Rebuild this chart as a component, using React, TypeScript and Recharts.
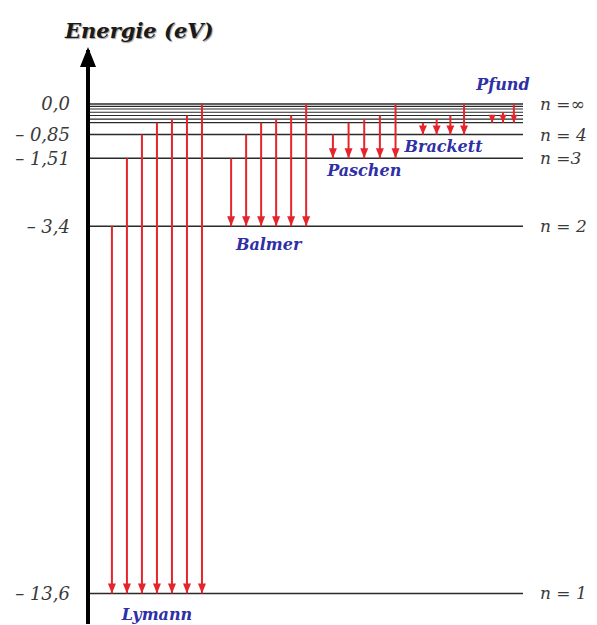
import React from 'react';
import { ComposedChart, Line, XAxis, YAxis, ReferenceLine, ReferenceDot } from 'recharts';

// Energy levels of hydrogen as drawn (eV)
const levelNames = ['1', '2', '3', '4', '5', '6', '7', '8', '9', '10', '∞'];
const levelEnergies = [-13.6, -3.4, -1.51, -0.85, -0.52, -0.42, -0.32, -0.23, -0.14, -0.065, 0];
const levelLabels = ['n = 1', 'n = 2', 'n =3', 'n = 4', '', '', '', '', '', '', 'n =∞'];

// Y axis ticks
const tickValues = [0, -0.85, -1.51, -3.4, -13.6];
const tickLabels = ['0,0', '– 0,85', '– 1,51', '– 3,4', '– 13,6'];

// Series: name, lower level, upper levels of the drawn transitions
const seriesNames = ['Lymann', 'Balmer', 'Paschen', 'Brackett', 'Pfund'];
const seriesLower = ['1', '2', '3', '4', '5'];
const lymanUpper = ['2', '3', '4', '5', '6', '7', '∞'];
const balmerUpper = ['3', '4', '5', '6', '7', '∞'];
const paschenUpper = ['4', '5', '6', '7', '∞'];
const brackettUpper = ['5', '6', '7', '∞'];
const pfundUpper = ['7', '8', '∞'];
const seriesUpper = [lymanUpper, balmerUpper, paschenUpper, brackettUpper, pfundUpper];

// Layout (horizontal placement of arrow groups, label offsets)
const groupStart = [5.5, 32.9, 56.3, 77, 92.9];
const groupStep = [3.45, 3.45, 3.6, 3.15, 2.5];
const nameDy = [21, 18, 12, 12, -19];
const headSize = [[8, 10], [8, 10], [8, 10], [8, 9], [7, 8]];

const RED = '#e5252b';
const BLUE = '#2f2fa6';
const SERIF = '"DejaVu Serif", "Liberation Serif", serif';

const energyOf = (n: string) => levelEnergies[levelNames.indexOf(n)];

const makeHead = (w: number, h: number) => (p: any) => {
  const { cx, cy, index } = p;
  if (index !== 1 || cx == null || cy == null) return <g key={`d-${index}`} />;
  return (
    <polygon
      key={`d-${index}`}
      points={`${cx - w / 2},${cy - h} ${cx + w / 2},${cy - h} ${cx},${cy}`}
      fill={RED}
    />
  );
};

const nameLabel = (text: string, dy: number) => (props: any) => {
  const vb = props.viewBox || {};
  const cx = (vb.x || 0) + (vb.width || 0) / 2;
  const cy = (vb.y || 0) + (vb.height || 0) / 2;
  return (
    <text
      x={cx}
      y={cy + dy}
      textAnchor="middle"
      dominantBaseline="central"
      fill={BLUE}
      fontSize={16}
      fontWeight="bold"
      fontStyle="italic"
      fontFamily={SERIF}
    >
      {text}
    </text>
  );
};

const titleLabel = () => (
  <text
    x={65}
    y={38}
    fill="#1a1a1a"
    fontSize={21}
    fontWeight="bold"
    fontStyle="italic"
    fontFamily={SERIF}
    style={{ textShadow: '1px 1px 1px #999' }}
  >
    Energie (eV)
  </text>
);

const axisHead = (p: any) => {
  const { cx, cy } = p;
  return <polygon points={`${cx},${cy - 3} ${cx - 8},${cy + 17} ${cx + 8},${cy + 17}`} fill="#000" />;
};

export default function App() {
  const arrows: React.ReactNode[] = [];
  const names: React.ReactNode[] = [];
  seriesUpper.forEach((ups, g) => {
    const lowE = energyOf(seriesLower[g]);
    const [w, h] = headSize[g];
    const head = makeHead(w, h);
    ups.forEach((u, i) => {
      const x = groupStart[g] + i * groupStep[g];
      arrows.push(
        <Line
          key={`a-${g}-${i}`}
          data={[
            { x, E: energyOf(u) },
            { x, E: lowE },
          ]}
          dataKey="E"
          type="linear"
          stroke={RED}
          strokeWidth={2}
          dot={head}
          activeDot={false}
          isAnimationActive={false}
          legendType="none"
        />
      );
    });
    const center = groupStart[g] + ((ups.length - 1) * groupStep[g]) / 2;
    const refE = g === 4 ? 0 : lowE;
    names.push(
      <ReferenceDot
        key={`n-${g}`}
        x={center}
        y={refE}
        r={1}
        fill="none"
        stroke="none"
        ifOverflow="visible"
        label={nameLabel(seriesNames[g], nameDy[g])}
      />
    );
  });

  return (
    <div style={{ position: 'absolute', left: 0, top: 0, background: '#fff' }}>
      <ComposedChart width={597} height={625} margin={{ top: 50, right: 74, bottom: 1, left: 0 }}>
        <XAxis type="number" dataKey="x" domain={[0, 100]} hide allowDataOverflow />
        <YAxis
          type="number"
          domain={[-14.45, 1.5]}
          allowDataOverflow
          ticks={tickValues}
          interval={0}
          width={88}
          tickLine={false}
          tickSize={0}
          tickMargin={18}
          axisLine={{ stroke: '#000', strokeWidth: 4 }}
          tickFormatter={(v: number) => tickLabels[tickValues.indexOf(v)] ?? ''}
          tick={{ fill: '#3a3a3a', fontSize: 18, fontStyle: 'italic', fontFamily: SERIF }}
          label={titleLabel}
        />
        {levelEnergies.map((e, i) => (
          <ReferenceLine
            key={`l-${i}`}
            y={e}
            stroke="#2a2a2a"
            strokeWidth={i >= 4 && i <= 9 ? 1.2 : 1.5}
            ifOverflow="visible"
            label={
              levelLabels[i]
                ? {
                    value: levelLabels[i],
                    position: 'right',
                    offset: 17,
                    fill: '#3a3a3a',
                    fontSize: 17,
                    fontStyle: 'italic',
                    fontFamily: SERIF,
                  }
                : undefined
            }
          />
        ))}
        {arrows}
        {names}
        <ReferenceDot x={0} y={1.5} r={8} shape={axisHead} ifOverflow="visible" />
      </ComposedChart>
    </div>
  );
}
